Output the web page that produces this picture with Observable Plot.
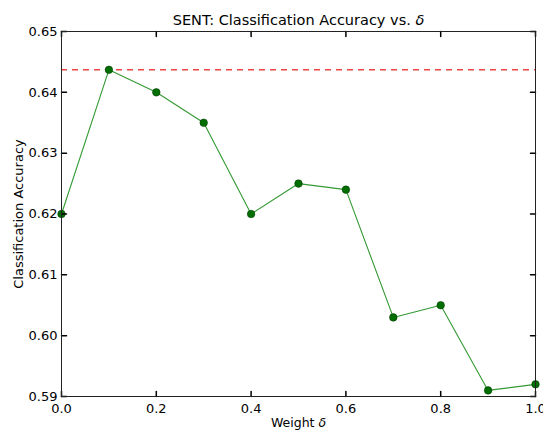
<!DOCTYPE html>
<html>
<head>
<meta charset="utf-8">
<script src="https://cdn.jsdelivr.net/npm/d3@7"></script>
<script src="https://cdn.jsdelivr.net/npm/@observablehq/plot@0.6"></script>
<style>
  html, body { margin: 0; padding: 0; background: #fff; }
  #chart { width: 543px; height: 430px; }
</style>
</head>
<body>
<div id="chart"></div>
<script>
const weights = [0.0, 0.1, 0.2, 0.3, 0.4, 0.5, 0.6, 0.7, 0.8, 0.9, 1.0];
const accuracy = [0.620, 0.6437, 0.640, 0.635, 0.620, 0.625, 0.624, 0.603, 0.605, 0.591, 0.592];
const baseline = [0.6437];
const xTicks = [0.0, 0.2, 0.4, 0.6, 0.8, 1.0];
const yTicks = [0.59, 0.60, 0.61, 0.62, 0.63, 0.64, 0.65];
const titleText = "SENT: Classification Accuracy vs. δ";
const xLabel = "Weight δ";
const yLabel = "Classification Accuracy";

const data = weights.map((w, i) => ({w, a: accuracy[i]}));
const tickShape = {draw(ctx, l) { ctx.moveTo(0, 0); ctx.lineTo(0, -l); }};
const font = "DejaVu Sans, sans-serif";

const plot = Plot.plot({
  width: 543,
  height: 430,
  marginTop: 31,
  marginBottom: 34,
  marginLeft: 61,
  marginRight: 8,
  style: {fontFamily: font, fontSize: "13px", background: "#fff", color: "#000"},
  x: {domain: [0, 1], ticks: xTicks, label: null},
  y: {domain: [0.59, 0.65], ticks: yTicks, label: null},
  marks: [
    Plot.ruleY(baseline, {y: d => d, stroke: "#ee4444", strokeWidth: 1.5, strokeDasharray: "6,5"}),
    Plot.line(data, {x: "w", y: "a", stroke: "#339933", strokeWidth: 1.1}),
    Plot.dot(data, {x: "w", y: "a", r: 3.8, fill: "#006e00", stroke: "#003300", strokeWidth: 0.5}),
    // inward ticks on all four sides
    Plot.vector(xTicks, {x: d => d, y: 0.59, length: 5, rotate: 0, anchor: "start", shape: tickShape, stroke: "#000"}),
    Plot.vector(xTicks, {x: d => d, y: 0.65, length: 5, rotate: 180, anchor: "start", shape: tickShape, stroke: "#000"}),
    Plot.vector(yTicks, {x: 0, y: d => d, length: 5, rotate: 90, anchor: "start", shape: tickShape, stroke: "#000"}),
    Plot.vector(yTicks, {x: 1, y: d => d, length: 5, rotate: 270, anchor: "start", shape: tickShape, stroke: "#000"}),
    Plot.frame({stroke: "#222", strokeWidth: 1}),
    Plot.axisX(xTicks, {tickSize: 0, tickPadding: 7, tickFormat: d3.format(".1f"), fontSize: 13}),
    Plot.axisY(yTicks, {tickSize: 0, tickPadding: 4, tickFormat: d3.format(".2f"), fontSize: 13}),
    Plot.text([titleText], {frameAnchor: "top", lineAnchor: "middle", dy: -11, text: d => d, fontSize: 14.5}),
    Plot.text([xLabel], {frameAnchor: "bottom", lineAnchor: "middle", dy: 26, text: d => d, fontSize: 12.5}),
    Plot.text([yLabel], {frameAnchor: "left", textAnchor: "middle", dx: -43, rotate: -90, text: d => d, fontSize: 13})
  ]
});

// italicize the delta symbols
d3.select(plot).selectAll("text").each(function() {
  const t = this.textContent;
  if (t.endsWith("δ") && this.children.length === 0) {
    const base = t.slice(0, -1);
    const sel = d3.select(this);
    sel.text(null);
    sel.append("tspan").text(base);
    sel.append("tspan").attr("font-style", "italic").text("δ");
  }
});

document.getElementById("chart").appendChild(plot);
</script>
</body>
</html>
